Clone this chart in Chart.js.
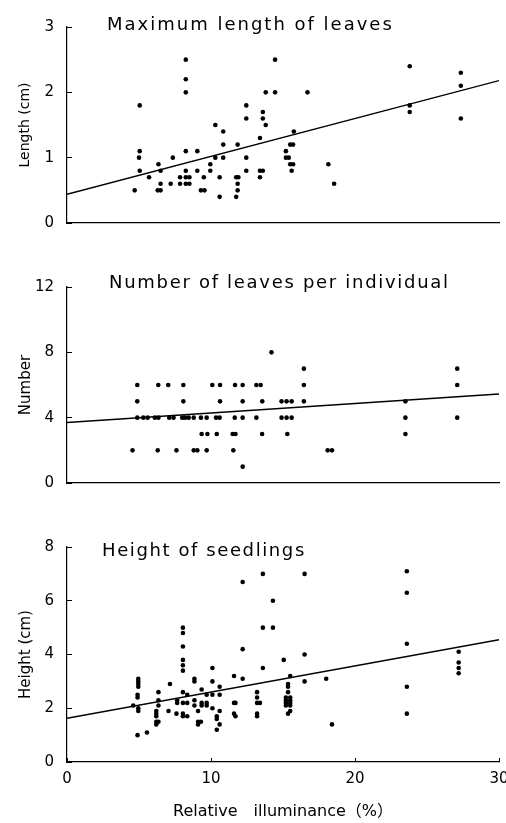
<!DOCTYPE html>
<html>
<head>
<meta charset="utf-8">
<title>Seedlings and relative illuminance</title>
<script src="https://cdn.jsdelivr.net/npm/chart.js"></script>
<style>
  html, body { margin: 0; padding: 0; background: #fff; overflow: hidden; }
  .page { position: relative; width: 506px; height: 823px; overflow: hidden; background: #fff; }
  .panel { position: absolute; left: 0; }
  .panel canvas { display: block; }
</style>
</head>
<body>
<div class="page">
  <div class="panel" style="top:0"><canvas id="lengthChart" width="525" height="250"></canvas></div>
  <div class="panel" style="top:260px"><canvas id="numberChart" width="525" height="250"></canvas></div>
  <div class="panel" style="top:520px"><canvas id="heightChart" width="525" height="303"></canvas></div>
</div>
<script>
// x axis: relative illuminance (%)
const illumTicks = [0, 10, 20, 30];
const fitX = [0, 30];

// maximum length of leaves (cm)
const lengthX = [4.7, 5.05, 5.05, 5.0, 5.05, 5.7, 6.35, 6.5, 6.3, 6.5, 6.5, 7.2, 7.35, 7.85, 7.85,
  8.25, 8.25, 8.25, 8.25, 8.25, 8.25, 8.25, 8.5, 8.5, 9.05, 9.05, 9.3, 9.55, 9.5, 9.95, 9.95,
  10.3, 10.3, 10.6, 10.6, 10.85, 10.85, 10.85, 11.85, 11.75, 11.9, 11.85, 11.85, 11.75,
  12.45, 12.45, 12.45, 12.45, 13.4, 13.4, 13.6, 13.4, 13.6, 13.6, 13.8, 13.8, 14.45, 14.45,
  15.2, 15.2, 15.4, 15.5, 15.7, 15.5, 15.7, 15.6, 15.75, 16.7, 18.15, 18.55,
  23.8, 23.8, 23.8, 27.35, 27.35, 27.35];
const lengthY = [0.5, 1.8, 1.1, 1.0, 0.8, 0.7, 0.9, 0.8, 0.5, 0.5, 0.6, 0.6, 1.0, 0.7, 0.6,
  2.5, 2.2, 2.0, 1.1, 0.8, 0.7, 0.6, 0.7, 0.6, 1.1, 0.8, 0.5, 0.5, 0.7, 0.9, 0.8,
  1.5, 1.0, 0.7, 0.4, 1.4, 1.2, 1.0, 1.2, 0.7, 0.7, 0.6, 0.5, 0.4,
  1.8, 1.6, 1.0, 0.8, 1.3, 0.8, 0.8, 0.7, 1.7, 1.6, 1.5, 2.0, 2.5, 2.0,
  1.1, 1.0, 1.0, 1.2, 1.2, 0.9, 0.9, 0.8, 1.4, 2.0, 0.9, 0.6,
  2.4, 1.8, 1.7, 2.3, 2.1, 1.6];
const lengthFit = [0.44, 2.18];
const lengthTicks = [0, 1, 2, 3];

// number of leaves per individual
const numberX = [
  4.88, 6.34, 7.03, 8.08, 10.09, 10.63, 11.67, 12.2, 13.15, 13.45, 16.45, 27.1,
  4.88, 8.08, 10.63, 12.2, 13.56, 14.9, 15.25, 15.6, 16.45, 23.5,
  4.88, 5.3, 5.6, 6.1, 6.35, 7.1, 7.4, 8.0, 8.2, 8.45, 8.8, 9.3, 9.7, 10.35, 10.6, 11.65, 12.2,
  13.15, 14.9, 15.25, 15.6, 23.5, 27.1,
  9.35, 9.75, 10.4, 11.5, 11.7, 13.55, 15.3, 23.5,
  4.55, 6.3, 7.6, 8.8, 9.05, 9.7, 11.55, 18.1, 18.4,
  12.2, 16.45, 27.1, 14.2];
const numberY = [
  6, 6, 6, 6, 6, 6, 6, 6, 6, 6, 6, 6,
  5, 5, 5, 5, 5, 5, 5, 5, 5, 5,
  4, 4, 4, 4, 4, 4, 4, 4, 4, 4, 4, 4, 4, 4, 4, 4, 4,
  4, 4, 4, 4, 4, 4,
  3, 3, 3, 3, 3, 3, 3, 3,
  2, 2, 2, 2, 2, 2, 2, 2, 2,
  1, 7, 7, 8];
const numberFit = [3.7, 5.45];
const numberTicks = [0, 4, 8, 12];

// height of seedlings (cm)
const heightX = [4.6, 4.9, 4.95, 4.95, 4.95, 4.95, 4.9, 4.9, 4.95, 4.95, 5.55,
  6.35, 6.35, 6.35, 6.2, 6.2, 6.2, 6.2, 6.35, 6.2, 7.05, 7.15, 7.65, 7.65, 7.6,
  8.05, 8.05, 8.05, 8.05, 8.05, 8.05, 8.05, 8.05, 8.05, 8.05, 8.35, 8.35, 8.35,
  8.85, 8.85, 8.85, 8.85, 9.1, 9.1, 9.1, 9.35, 9.35, 9.35, 9.3, 9.7, 9.7, 9.7,
  10.1, 10.1, 10.1, 10.1, 10.4, 10.4, 10.4, 10.6, 10.6, 10.6, 10.6,
  11.6, 11.6, 11.7, 11.6, 11.7, 12.2, 12.2, 12.2,
  13.2, 13.2, 13.2, 13.4, 13.2, 13.2, 13.6, 13.6, 13.6, 14.3, 14.3, 15.05,
  15.35, 15.35, 15.35, 15.2, 15.2, 15.2, 15.2, 15.5, 15.5, 15.5, 15.5, 15.5, 15.35, 15.5,
  16.5, 16.5, 16.5, 18.0, 18.4, 23.6, 23.6, 23.6, 23.6, 23.6, 27.2, 27.2, 27.2, 27.2];
const heightY = [2.1, 1.0, 3.1, 3.0, 2.9, 2.8, 2.5, 2.4, 2.0, 1.9, 1.1,
  2.6, 2.3, 2.1, 1.9, 1.8, 1.7, 1.5, 1.5, 1.4, 1.9, 2.9, 2.3, 2.2, 1.8,
  5.0, 4.8, 4.3, 3.8, 3.6, 3.4, 2.6, 2.2, 1.8, 1.7, 2.5, 2.2, 1.7,
  3.1, 3.0, 2.3, 2.1, 1.9, 1.5, 1.4, 2.7, 2.2, 2.1, 1.5, 2.5, 2.2, 2.1,
  3.5, 3.0, 2.5, 2.0, 1.7, 1.6, 1.2, 2.8, 2.5, 1.9, 1.4,
  3.2, 2.2, 2.2, 1.8, 1.7, 6.7, 4.2, 3.1,
  2.6, 2.4, 2.2, 2.2, 1.8, 1.7, 7.0, 5.0, 3.5, 6.0, 5.0, 3.8,
  2.9, 2.8, 2.6, 2.4, 2.3, 2.2, 2.1, 2.4, 2.3, 2.2, 2.1, 1.9, 1.8, 3.2,
  7.0, 4.0, 3.0, 3.1, 1.4, 7.1, 6.3, 4.4, 2.8, 1.8, 4.1, 3.7, 3.5, 3.3];
const heightFit = [1.63, 4.55];
const heightTicks = [0, 2, 4, 6, 8];

const FONT = '"DejaVu Sans", "Noto Sans CJK JP", sans-serif';

// heading written inside the plot area
const panelTitle = {
  id: 'panelTitle',
  afterDatasetsDraw(chart, args, opts) {
    const ctx = chart.ctx;
    ctx.save();
    ctx.font = '18px ' + FONT;
    ctx.letterSpacing = opts.spacing + 'px';
    ctx.fillStyle = '#000';
    ctx.textBaseline = 'alphabetic';
    ctx.textAlign = 'left';
    ctx.fillText(opts.text, opts.x, opts.y);
    ctx.restore();
  }
};

function drawPanel(id, p) {
  const points = p.x.map((v, i) => ({ x: v, y: p.y[i] }));
  const line = fitX.map((v, i) => ({ x: v, y: p.fit[i] }));
  const yt = p.yTicks;
  new Chart(document.getElementById(id), {
    type: 'scatter',
    data: {
      datasets: [
        {
          data: points,
          pointRadius: 2.3,
          pointHoverRadius: 2.3,
          pointBorderWidth: 0,
          pointBackgroundColor: '#000'
        },
        {
          data: line,
          showLine: true,
          borderColor: '#000',
          borderWidth: 1.4,
          pointRadius: 0,
          fill: false
        }
      ]
    },
    options: {
      responsive: false,
      animation: false,
      events: [],
      // right padding leaves room for the last tick label; the page clips it at 506px
      layout: { padding: { top: p.padTop, right: 26, bottom: 0, left: 0 } },
      plugins: {
        legend: { display: false },
        tooltip: { enabled: false },
        panelTitle: p.title
      },
      scales: {
        x: {
          type: 'linear',
          min: illumTicks[0],
          max: illumTicks[illumTicks.length - 1],
          ticks: {
            display: p.showX,
            stepSize: illumTicks[1] - illumTicks[0],
            color: '#000',
            padding: 12,
            font: { family: FONT, size: 15 }
          },
          grid: { display: p.showX, drawOnChartArea: false, tickLength: -4, color: '#000', lineWidth: 1 },
          border: { display: true, color: '#000', width: 1.2 },
          title: {
            display: p.showX,
            text: 'Relative\u3000illuminance\uff08%\uff09',
            color: '#000',
            font: { family: FONT, size: 16 },
            padding: { top: 0, bottom: 2 }
          },
          afterFit: s => { s.height = p.xHeight; }
        },
        y: {
          min: yt[0],
          max: yt[yt.length - 1],
          ticks: {
            stepSize: yt[1] - yt[0],
            color: '#000',
            padding: 18,
            font: { family: FONT, size: 15 }
          },
          grid: { drawOnChartArea: false, tickLength: -5, color: '#000', lineWidth: 1 },
          border: { display: true, color: '#000', width: 1.2 },
          title: {
            display: true,
            text: p.yLabel,
            color: '#000',
            font: { family: FONT, size: p.yLabelSize },
            padding: { top: 17, bottom: 0 }
          },
          afterFit: s => { s.width = 67; }
        }
      }
    },
    plugins: [panelTitle]
  });
}

drawPanel('lengthChart', {
  x: lengthX, y: lengthY, fit: lengthFit, yTicks: lengthTicks,
  yLabel: 'Length (cm)', yLabelSize: 14, padTop: 18, xHeight: 11, showX: false,
  title: { text: 'Maximum length of leaves', x: 107, y: 29.5, spacing: 2 }
});

drawPanel('numberChart', {
  x: numberX, y: numberY, fit: numberFit, yTicks: numberTicks,
  yLabel: 'Number', yLabelSize: 15, padTop: 20, xHeight: 11, showX: false,
  title: { text: 'Number of leaves per individual', x: 109, y: 27.5, spacing: 1.7 }
});

drawPanel('heightChart', {
  x: heightX, y: heightY, fit: heightFit, yTicks: heightTicks,
  yLabel: 'Height (cm)', yLabelSize: 15, padTop: 23, xHeight: 61, showX: true,
  title: { text: 'Height of seedlings', x: 102, y: 36, spacing: 1.6 }
});
</script>
</body>
</html>
